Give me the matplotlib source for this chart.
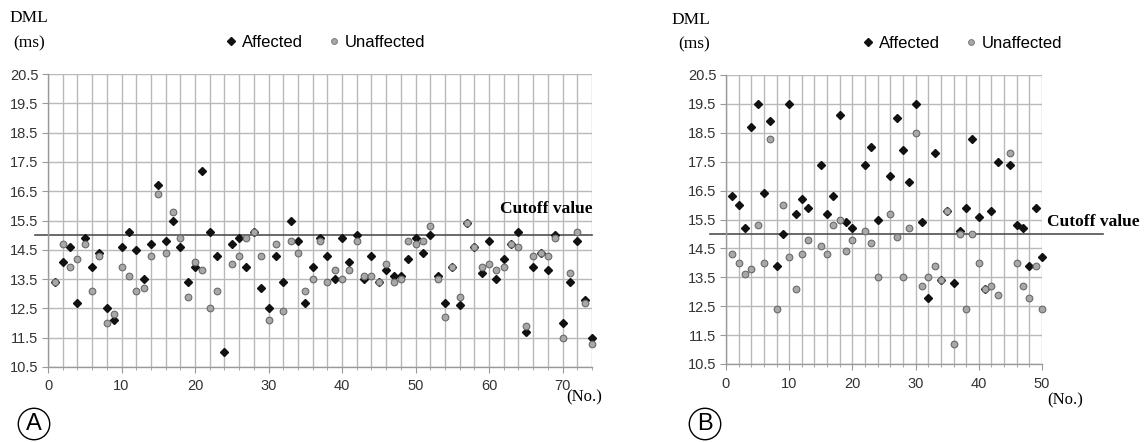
import numpy as np
import matplotlib
matplotlib.use('Agg')
import matplotlib.pyplot as plt
from matplotlib.lines import Line2D

nan = np.nan

# panel A: 74 hands
no_a = list(range(1, 75))
affected_a = [13.4, 14.1, 14.6, 12.7, 14.9, 13.9, 14.4, 12.5, 12.1, 14.6,
              15.1, 14.5, 13.5, 14.7, 16.7, 14.8, 15.5, 14.6, 13.4, 13.9,
              17.2, 15.1, 14.3, 11.0, 14.7, 14.9, 13.9, 15.1, 13.2, 12.5,
              14.3, 13.4, 15.5, 14.8, 12.7, 13.9, 14.9, 14.3, 13.5, 14.9,
              14.1, 15.0, 13.5, 14.3, 13.4, 13.8, 13.6, 13.6, 14.2, 14.9,
              14.4, 15.0, 13.6, 12.7, 13.9, 12.6, 15.4, 14.6, 13.7, 14.8,
              13.5, 14.2, 14.7, 15.1, 11.7, 13.9, 14.4, 13.8, 15.0, 12.0,
              13.4, 14.8, 12.8, 11.5]
unaffected_a = [13.4, 14.7, 13.9, 14.2, 14.7, 13.1, 14.3, 12.0, 12.3, 13.9,
                13.6, 13.1, 13.2, 14.3, 16.4, 14.4, 15.8, 14.9, 12.9, 14.1,
                13.8, 12.5, 13.1, nan, 14.0, 14.3, 14.9, 15.1, 14.3, 12.1,
                14.7, 12.4, 14.8, 14.4, 13.1, 13.5, 14.8, 13.4, 13.8, 13.5,
                13.8, 14.8, 13.6, 13.6, 13.4, 14.0, 13.4, 13.5, 14.8, 14.7,
                14.8, 15.3, 13.5, 12.2, 13.9, 12.9, 15.4, 14.6, 13.9, 14.0,
                13.8, 13.9, 14.7, 14.6, 11.9, 14.3, 14.4, 14.3, 14.9, 11.5,
                13.7, 15.1, 12.7, 11.3]

# panel B: 50 hands
no_b = list(range(1, 51))
affected_b = [16.3, 16.0, 15.2, 18.7, 19.5, 16.4, 18.9, 13.9, 15.0, 19.5,
              15.7, 16.2, 15.9, nan, 17.4, 15.7, 16.3, 19.1, 15.4, 15.2,
              nan, 17.4, 18.0, 15.5, nan, 17.0, 19.0, 17.9, 16.8, 19.5,
              15.4, 12.8, 17.8, 13.4, 15.8, 13.3, 15.1, 15.9, 18.3, 15.6,
              13.1, 15.8, 17.5, nan, 17.4, 15.3, 15.2, 13.9, 15.9, 14.2]
unaffected_b = [14.3, 14.0, 13.6, 13.8, 15.3, 14.0, 18.3, 12.4, 16.0, 14.2,
                13.1, 14.3, 14.8, nan, 14.6, 14.3, 15.3, 15.5, 14.4, 14.8,
                nan, 15.1, 14.7, 13.5, nan, 15.7, 14.9, 13.5, 15.2, 18.5,
                13.2, 13.5, 13.9, 13.4, 15.8, 11.2, 15.0, 12.4, 15.0, 14.0,
                13.1, 13.2, 12.9, nan, 17.8, 14.0, 13.2, 12.8, 13.9, 12.4]

cutoff = 15.0
yticks = np.arange(10.5, 20.6, 1.0)

W, H = 1148, 442
fig = plt.figure(figsize=(W / 100, H / 100), dpi=100)

serif = 'Liberation Serif'
sans = 'Liberation Sans'
grid_c = '#b9b9b9'
spine_c = '#9a9a9a'


def px_axes(left, top, right, bottom):
    return fig.add_axes([left / W, 1 - bottom / H, (right - left) / W, (bottom - top) / H])


def panel(ax, no, aff, unaff, xmax, line_from, line_to, legend_x):
    ax.plot(no, aff, linestyle='none', marker='D', markersize=4.3,
            color='#111111', zorder=3, clip_on=False)
    ax.plot(no, unaff, linestyle='none', marker='o', markersize=4.8,
            markerfacecolor='#a8a8a8', markeredgecolor='#6a6a6a',
            markeredgewidth=0.8, zorder=4, clip_on=False)
    ax.plot([line_from, line_to], [cutoff, cutoff], color='#505050',
            lw=1.2, zorder=2, clip_on=False)

    ax.set_xlim(0, xmax)
    ax.set_ylim(10.5, 20.5)
    ax.set_xticks(np.arange(0, xmax + 1, 10))
    ax.set_xticks(np.arange(0, xmax + 1, 2), minor=True)
    ax.set_yticks(yticks)
    ax.set_yticklabels(['%.1f' % v for v in yticks])
    ax.grid(which='both', color=grid_c, lw=1.0, zorder=0)
    ax.set_axisbelow(True)
    for s in ['top', 'right']:
        ax.spines[s].set_visible(False)
    for s in ['left', 'bottom']:
        ax.spines[s].set_color(spine_c)
        ax.spines[s].set_linewidth(1.0)
    ax.tick_params(which='major', length=4, color=spine_c, labelsize=10.5,
                   labelcolor='#333333', pad=5)
    ax.tick_params(which='minor', length=2.5, color=spine_c)
    ax.tick_params(axis='y', pad=3)
    for lab in ax.get_xticklabels() + ax.get_yticklabels():
        lab.set_family(sans)

    handles = [Line2D([], [], linestyle='none', marker='D', markersize=3.8,
                      color='#111111'),
               Line2D([], [], linestyle='none', marker='o', markersize=4.2,
                      markerfacecolor='#a8a8a8', markeredgecolor='#7a7a7a',
                      markeredgewidth=0.7)]
    ax.legend(handles, ['Affected', 'Unaffected'], loc='center',
              bbox_to_anchor=(legend_x, 1.108), ncol=2, frameon=False,
              handlelength=0.5, handletextpad=0.4, columnspacing=1.6,
              prop={'family': sans, 'size': 12})


ax_a = px_axes(48, 74, 592, 367)
panel(ax_a, no_a, affected_a, unaffected_a, 74, -1.8, 74, 0.511)

ax_b = px_axes(726, 75, 1042, 364)
panel(ax_b, no_b, affected_b, unaffected_b, 50, -2.5, 59.6, 0.75)


def ftext(x, y, s, **kw):
    fig.text(x / W, 1 - y / H, s, **kw)


# axis captions
ftext(29, 18, 'DML', family=serif, size=12.5, ha='center', va='center')
ftext(29, 43, '(ms)', family=serif, size=12.5, ha='center', va='center')
ftext(710, 20, 'DML', family=serif, size=12.5, ha='right', va='center')
ftext(710, 44, '(ms)', family=serif, size=12.5, ha='right', va='center')

ftext(566, 397, '(No.)', family=serif, size=12, ha='left', va='center')
ftext(1047, 400, '(No.)', family=serif, size=12, ha='left', va='center')

ftext(593, 209, 'Cutoff value', family=serif, size=12.5, weight='bold',
      ha='right', va='center')
ftext(1047, 222, 'Cutoff value', family=serif, size=12.5, weight='bold',
      ha='left', va='center')

# panel letters
for x, letter in [(34, 'A'), (705, 'B')]:
    ftext(x, 424, letter, family=sans, size=17, ha='center', va='center',
          bbox=dict(boxstyle='circle,pad=0.2', fc='none', ec='black', lw=1.0))

fig.savefig('out.png', dpi=100)
